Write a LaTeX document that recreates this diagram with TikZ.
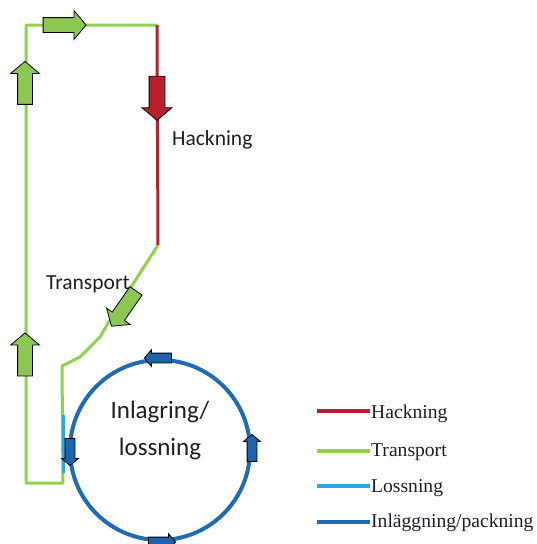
\documentclass[tikz,border=0pt]{standalone}
\usepackage{fontspec}
\setmainfont{Liberation Serif}
\newfontfamily\calfont{Carlito}
\usetikzlibrary{shapes.arrows}
\definecolor{hred}{HTML}{B8212B}
\definecolor{tgreen}{HTML}{92D050}
\definecolor{agreen}{HTML}{8CC653}
\definecolor{lblue}{HTML}{29A9E1}
\definecolor{dblue}{HTML}{1F6CB5}
\definecolor{ablue}{HTML}{1E63AC}
\definecolor{txt}{HTML}{1E1E28}
\tikzset{
  blockarr/.style={single arrow, draw=black, line width=0.8pt, inner xsep=0pt,
    single arrow head indent=0pt, single arrow tip angle=100, anchor=center},
  bigarr/.style={blockarr, minimum height=43pt, inner ysep=7pt, single arrow head extend=7pt},
  smallarr/.style={blockarr, fill=ablue, minimum height=27pt, inner ysep=4.5pt, single arrow head extend=3.5pt},
  pathline/.style={line width=3pt, line join=round},
  legline/.style={line width=4pt},
  legtext/.style={anchor=base west, inner sep=0pt, font=\fontsize{19.6}{24}\selectfont, text=txt},
  caltext/.style={inner sep=0pt, text=txt, font=\calfont\fontsize{21.5}{26}\selectfont}
}
\begin{document}
\begin{tikzpicture}[x=1pt,y=-1pt]
\useasboundingbox (0,0) rectangle (536,544);
% path coordinates
\coordinate (tl) at (26,25);
\coordinate (tr) at (157,25);
\coordinate (rb) at (158,245);
\coordinate (p1) at (110,320);
\coordinate (p2) at (100,337);
\coordinate (p3) at (80,357);
\coordinate (p4) at (62,366);
\coordinate (lb) at (63,483);
\coordinate (bl) at (26,483);
\coordinate (ls1) at (63,415);
\coordinate (ls2) at (63,473);
% transport path
\draw[pathline, tgreen] (rb) -- (p1) -- (p2) -- (p3) -- (p4) -- (lb) -- (bl) -- (tl) -- (tr);
% hackning
\draw[pathline, hred] (tr) -- (rb);
% lossning
\draw[pathline, lblue] (ls1) -- (ls2);
% storage circle
\node[circle, draw=dblue, line width=4pt, minimum size=180pt, inner sep=0pt] (ring) at (160,450) {};
% block arrows
\node[bigarr, fill=agreen] (ga1) at (61.5,25) {};
\node[bigarr, fill=agreen, rotate=90] (ga2) at (25,86) {};
\node[bigarr, fill=agreen, rotate=90] (ga3) at (25,357.5) {};
\node[bigarr, fill=agreen, rotate=-124.8] (ga4) at (125.5,306) {};
\node[bigarr, fill=hred, minimum height=44pt, inner ysep=7.5pt, rotate=-90] (ra1) at (157,95) {};
\node[smallarr, rotate=180] (ba1) at (ring.north) {};
\node[smallarr, rotate=-90] (ba2) at ([xshift=2pt]ring.west) {};
\node[smallarr, rotate=90] (ba3) at (ring.east) {};
\node[smallarr] (ba4) at (ring.south) {};
% labels
\node[caltext, anchor=base west] (lh) at (172,145) {Hackning};
\node[caltext, anchor=base west] (lt) at (46,289) {Transport};
\node[caltext, font=\calfont\fontsize{25}{37}\selectfont, align=center, anchor=base] (lc) at (160,455) {Inlagring/\\lossning};
% legend
\coordinate (l1a) at (317,411); \coordinate (l1b) at (370,411);
\coordinate (l2a) at (317,451); \coordinate (l2b) at (370,451);
\coordinate (l3a) at (317,486); \coordinate (l3b) at (370,486);
\coordinate (l4a) at (317,522); \coordinate (l4b) at (370,522);
\draw[legline, hred] (l1a) -- (l1b);
\draw[legline, tgreen] (l2a) -- (l2b);
\draw[legline, lblue] (l3a) -- (l3b);
\draw[legline, dblue] (l4a) -- (l4b);
\node[legtext] (t1) at (371,418) {Hackning};
\node[legtext] (t2) at (371,456) {Transport};
\node[legtext] (t3) at (371,492) {Lossning};
\node[legtext] (t4) at (371,527) {Inläggning/packning};
\end{tikzpicture}
\end{document}
